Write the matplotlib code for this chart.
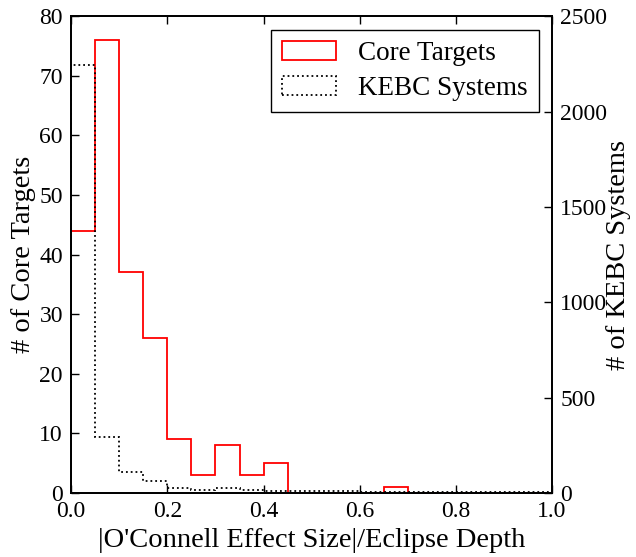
import numpy as np
import matplotlib.pyplot as plt

plt.rcParams['font.family'] = ['Liberation Serif', 'DejaVu Serif']
plt.rcParams['mathtext.fontset'] = 'stix'

# bins of |O'Connell effect size| / eclipse depth
bin_edges = np.round(np.arange(0, 1.0001, 0.05), 2)

# counts per bin
core_counts = [44, 76, 37, 26, 9, 3, 8, 3, 5, 0, 0, 0, 0, 1, 0, 0, 0, 0, 0, 0]
kebc_counts = [2245, 295, 108, 63, 25, 16, 25, 16, 9, 9, 8, 8, 7, 7, 6, 6, 6, 5, 5, 5]

fig = plt.figure(figsize=(6.36, 5.57), dpi=100)
ax = fig.add_axes([0.112, 0.115, 0.756, 0.856])
ax2 = ax.twinx()

centers = bin_edges[:-1] + 0.025
_, _, p1 = ax.hist(centers, bins=bin_edges, weights=core_counts, histtype='step',
                   color='red', linewidth=1.3, label='Core Targets')
_, _, p2 = ax2.hist(centers, bins=bin_edges, weights=kebc_counts, histtype='step',
                    color='black', linestyle=':', linewidth=1.3, label='KEBC Systems')

ax.set_xlim(0, 1)
ax.set_ylim(0, 80)
ax2.set_ylim(0, 2500)
ax.set_xticks(np.arange(0, 1.01, 0.2))
ax.set_yticks(np.arange(0, 81, 10))
ax2.set_yticks(np.arange(0, 2501, 500))

for a in (ax, ax2):
    a.tick_params(direction='in', labelsize=17, length=6, width=1, top=True, pad=6)
    for s in a.spines.values():
        s.set_linewidth(1.3)

ax.set_xlabel("|O'Connell Effect Size|/Eclipse Depth", fontsize=20.5, labelpad=4)
ax.set_ylabel('# of Core Targets', fontsize=20.5, labelpad=2)
ax2.set_ylabel('# of KEBC Systems', fontsize=20.5, labelpad=-1)

leg = ax2.legend(handles=[p1[0], p2[0]], loc='upper right', fontsize=19.5,
                 fancybox=False, edgecolor='black', framealpha=1,
                 handlelength=2.0, handleheight=0.7, labelspacing=0.4)
leg.get_frame().set_linewidth(1)

fig.savefig('out.png', dpi=100)
plt.close(fig)
